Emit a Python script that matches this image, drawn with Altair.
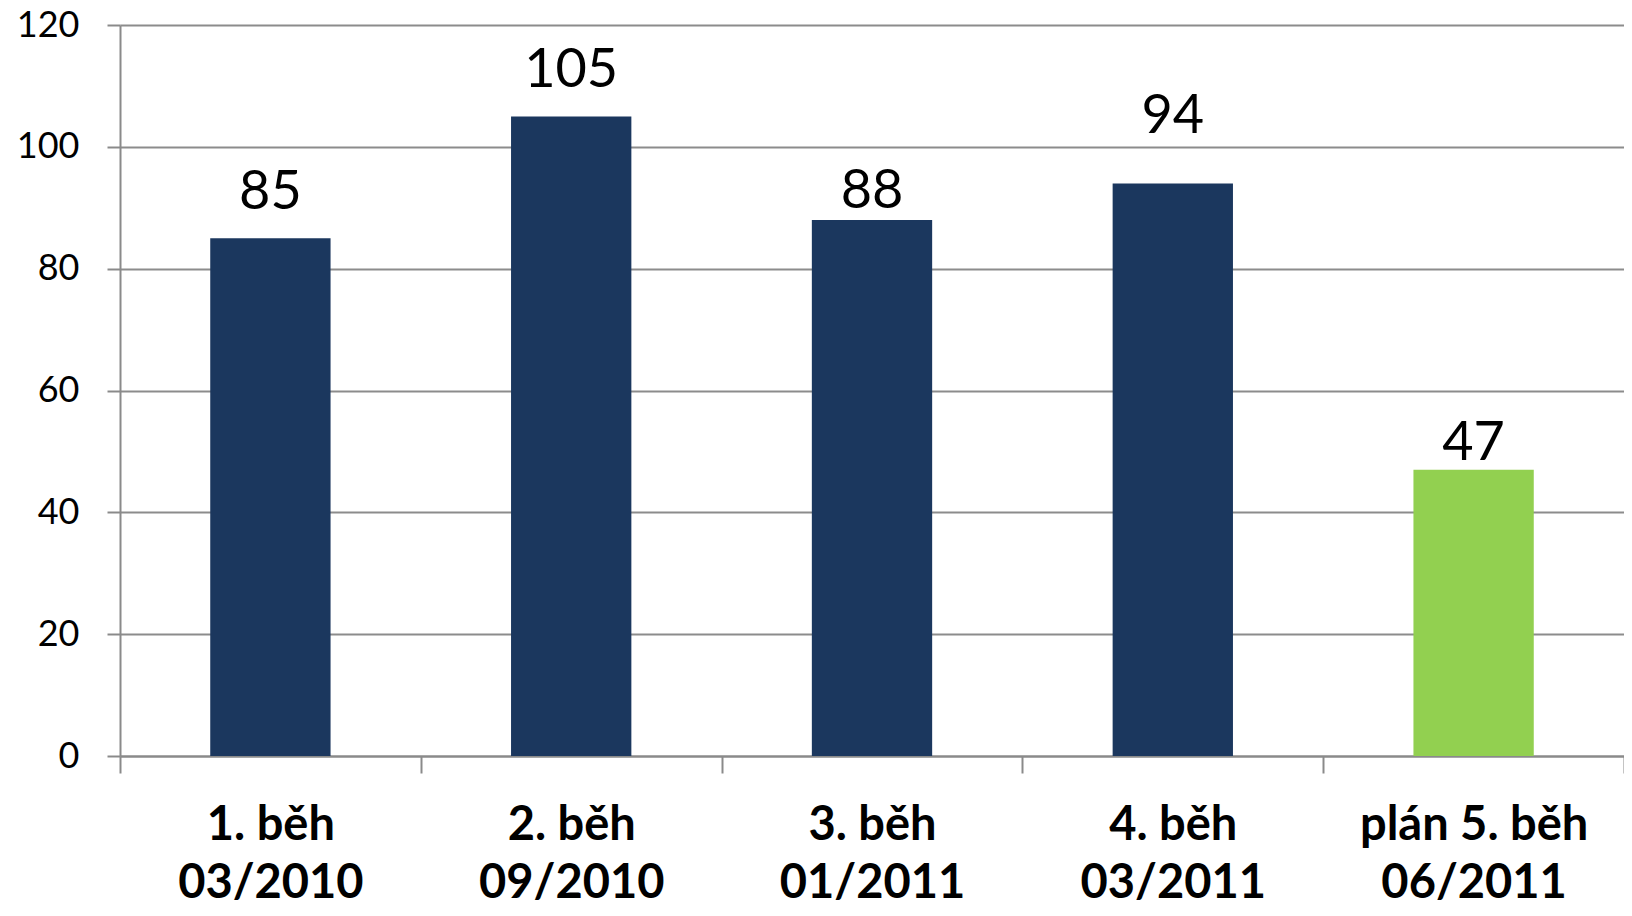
import altair as alt
import pandas as pd

categories = ["1. běh\n03/2010", "2. běh\n09/2010", "3. běh\n01/2011", "4. běh\n03/2011", "plán 5. běh\n06/2011"]
values = [85, 105, 88, 94, 47]
status = ["skutečnost", "skutečnost", "skutečnost", "skutečnost", "plán"]
y_ticks = [0, 20, 40, 60, 80, 100, 120]

df = pd.DataFrame({"cat": categories, "val": values, "status": status})

x = alt.X("cat:N", sort=categories, title=None,
          scale=alt.Scale(paddingInner=0, paddingOuter=0),
          axis=alt.Axis(labelExpr="split(datum.label, '\\n')", labelAngle=0,
                        labelFont="Lato", labelFontWeight="bold", labelFontSize=47,
                        labelColor="#000000", labelLineHeight=58, labelLimit=0,
                        labelBaseline="alphabetic", labelPadding=66,
                        tickBand="extent", tickSize=17, tickColor="#8a8a8a", tickWidth=2,
                        domainColor="#8a8a8a", domainWidth=2, grid=False))
y = alt.Y("val:Q", title=None,
          scale=alt.Scale(domain=[0, 120], nice=False),
          axis=alt.Axis(values=y_ticks, labelFont="Lato", labelFontSize=36,
                        labelColor="#000000", labelPadding=28, labelBaseline="middle",
                        tickSize=13, tickColor="#8a8a8a", tickWidth=2,
                        domainColor="#8a8a8a", domainWidth=2,
                        grid=True, gridColor="#8c8c8c", gridWidth=2))

bars = alt.Chart(df).mark_bar(width=alt.RelativeBandSize(0.4)).encode(
    x=x, y=y,
    color=alt.Color("status:N", legend=None,
                    scale=alt.Scale(domain=["skutečnost", "plán"], range=["#1b375e", "#92d050"])),
)

# value labels were placed individually in the original; offset (px) above each bar
label_offsets = {0: -29, 1: -29, 2: -12, 3: -50, 4: -10}
layers = [bars]
for i, off in label_offsets.items():
    layers.append(
        alt.Chart(df).transform_filter(alt.datum.cat == categories[i])
        .mark_text(font="Lato", fontSize=54, color="#000000", baseline="alphabetic", dy=off)
        .encode(x=alt.X("cat:N", sort=categories), y="val:Q", text="val:Q")
    )

chart = alt.layer(*layers).properties(
    width=1504, height=731,
    autosize=alt.AutoSizeParams(type="none"),
    padding={"left": 112, "top": 17, "right": 0, "bottom": 152},
    background="#ffffff",
).configure_view(strokeWidth=0)

chart.save("out.html", embed_options={"renderer": "svg", "actions": False})
